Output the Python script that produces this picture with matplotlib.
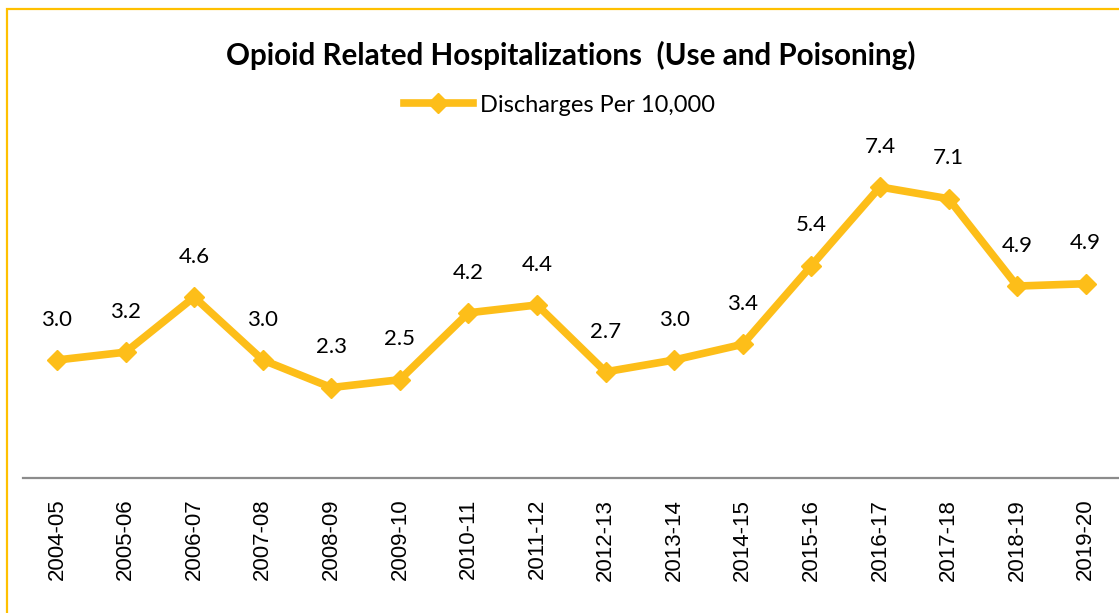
import matplotlib.pyplot as plt
from matplotlib.patches import Rectangle

# Opioid related hospitalizations, discharges per 10,000
years = ["2004-05", "2005-06", "2006-07", "2007-08", "2008-09", "2009-10",
         "2010-11", "2011-12", "2012-13", "2013-14", "2014-15", "2015-16",
         "2016-17", "2017-18", "2018-19", "2019-20"]
rates = [3.0, 3.2, 4.6, 3.0, 2.3, 2.5, 4.2, 4.4, 2.7, 3.0, 3.4, 5.4, 7.4, 7.1, 4.88, 4.94]

gold = "#FDBE19"

fig = plt.figure(figsize=(11.19, 6.13), dpi=100)
ax = fig.add_axes([0.0203, 0.2202, 0.9806, 0.5775])

x = list(range(len(years)))
line, = ax.plot(x, rates, color=gold, lw=5.5, marker="D", ms=10,
                solid_joinstyle="miter", label="Discharges Per 10,000")

for xi, v in zip(x, rates):
    ax.annotate(f"{v:.1f}", (xi, v), xytext=(0, 29), textcoords="offset points",
                ha="center", va="center", fontsize=16, family="Lato",
                annotation_clip=False)

ax.set_xlim(-0.5, len(years) - 0.5)
ax.set_ylim(0, 9)
ax.set_xticks(x)
ax.set_xticklabels(years, rotation=90, fontsize=16, family="Liberation Sans")
ax.tick_params(axis="x", length=0, pad=15)
ax.set_yticks([])
for s in ["left", "top", "right"]:
    ax.spines[s].set_visible(False)
ax.spines["bottom"].set_color("#8c8c8c")
ax.spines["bottom"].set_linewidth(1.6)

fig.text(0.51, 1 - 55 / 613, "Opioid Related Hospitalizations  (Use and Poisoning)",
         ha="center", va="center", fontsize=21.3, fontweight="bold", family="Lato")

fig.legend(handles=[line], loc="center", bbox_to_anchor=(0.5, 1 - 105 / 613),
           frameon=False, prop={"family": "Lato", "size": 17},
           handlelength=2.9, handletextpad=0.3)

# gold frame around the chart
fig.patches.append(Rectangle((7 / 1119, -0.05), 1.2, 1 - 9 / 613 + 0.05,
                             transform=fig.transFigure, fill=False,
                             edgecolor="#FFC000", lw=1.6))

fig.savefig("out.png", dpi=100)
